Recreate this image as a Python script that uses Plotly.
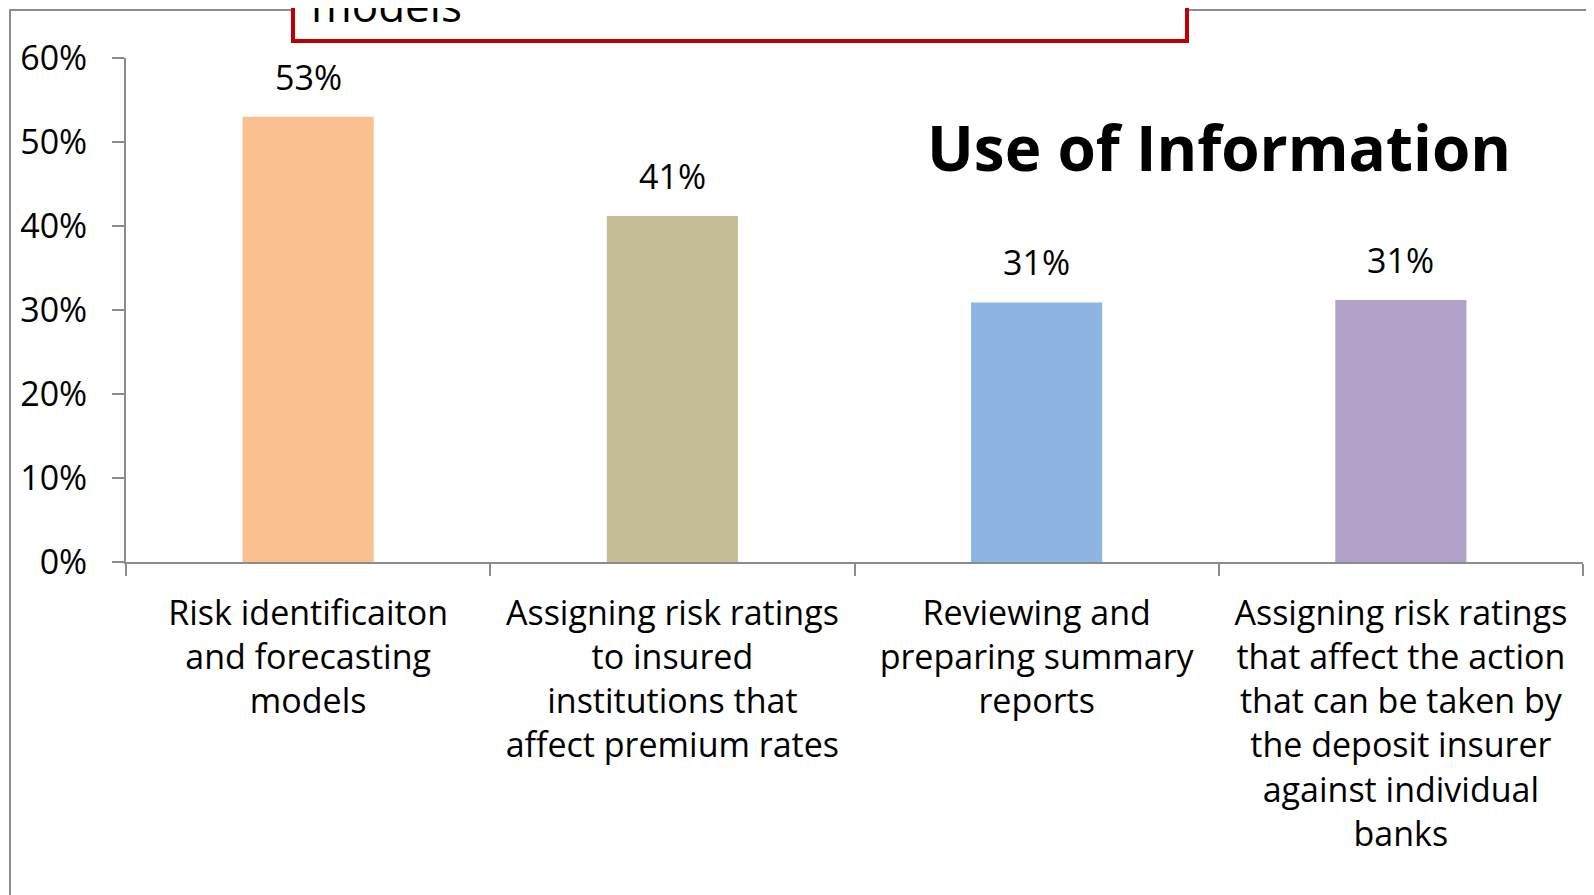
import plotly.graph_objects as go

# data
categories = [
    "Risk identificaiton<br>and forecasting<br>models",
    "Assigning risk ratings<br>to insured<br>institutions that<br>affect premium rates",
    "Reviewing and<br>preparing summary<br>reports",
    "Assigning risk ratings<br>that affect the action<br>that can be taken by<br>the deposit insurer<br>against individual<br>banks",
]
values = [0.53, 0.412, 0.309, 0.312]
labels = ["53%", "41%", "31%", "31%"]
bar_colors = ["#FAC090", "#C4BD97", "#8EB4E3", "#B3A2C7"]

# page has an 8px body margin, so figure pixels = page pixels - 8
OFF = 8
W, H = 1594 - OFF, 895 - OFF
L, R, T, B = 126 - OFF, 1594 - 1583, 58 - OFF, 895 - 562
PW, PH = W - L - R, H - T - B


def px_x(p):
    return (p - OFF - L) / PW


def px_y(p):
    return (H - B - (p - OFF)) / PH


FONT = "Open Sans, sans-serif"
GRAY = "#8C8C8C"

fig = go.Figure()
fig.add_trace(go.Bar(x=categories, y=values, marker_color=bar_colors,
                     marker_line_width=0, width=0.36, showlegend=False))

# value labels above bars
for c, v, t in zip(categories, values, labels):
    fig.add_annotation(x=c, y=v, text=t, showarrow=False, yanchor="bottom",
                       yshift=15, font=dict(size=34, color="black", family=FONT))

# outer gray frame and red box at the top (box text is cut by the top edge)
fig.add_shape(type="rect", xref="paper", yref="paper",
              x0=px_x(10), x1=px_x(1593), y0=px_y(905), y1=px_y(10),
              line=dict(color=GRAY, width=2), layer="below")
fig.add_shape(type="rect", xref="paper", yref="paper",
              x0=px_x(293), x1=px_x(1187), y0=px_y(41), y1=px_y(-30),
              line=dict(color="#C00000", width=4), fillcolor="white")
fig.add_annotation(xref="paper", yref="paper", x=px_x(309), y=px_y(37),
                   xanchor="left", yanchor="bottom", text="models", showarrow=False,
                   font=dict(size=44, color="black", family=FONT))

# chart title
fig.add_annotation(xref="paper", yref="paper", x=px_x(1219), y=px_y(147),
                   xanchor="center", yanchor="middle", text="<b>Use of Information</b>",
                   showarrow=False, font=dict(size=62, color="black", family=FONT))

fig.update_layout(
    width=W, height=H,
    margin=dict(l=L, r=R, t=T, b=B, autoexpand=False),
    plot_bgcolor="white", paper_bgcolor="white",
    font=dict(family=FONT, color="black"),
    bargap=0.64,
)
fig.update_xaxes(showline=True, linecolor=GRAY, linewidth=2, ticks="outside",
                 tickson="boundaries", ticklen=12, tickcolor=GRAY, tickwidth=2,
                 tickfont=dict(size=34), ticklabelstandoff=20, showgrid=False)
fig.update_yaxes(range=[0, 0.6], dtick=0.1, tickformat=".0%", showline=True,
                 linecolor=GRAY, linewidth=2, ticks="outside", ticklen=12,
                 tickcolor=GRAY, tickwidth=2, tickfont=dict(size=34),
                 ticklabelstandoff=18, showgrid=False, zeroline=False)

fig.write_html("out.html")
